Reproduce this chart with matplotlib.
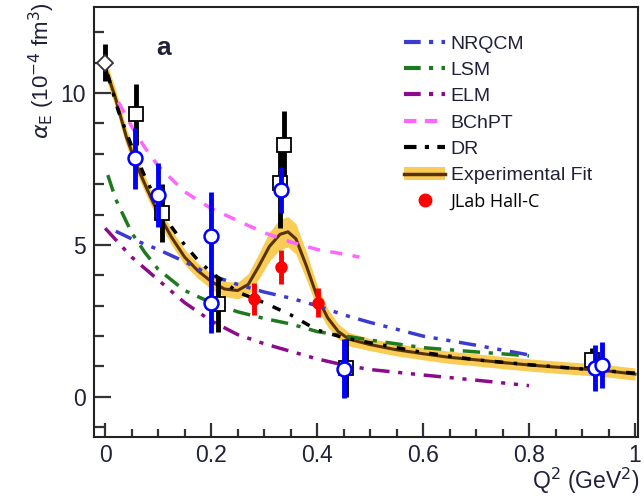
import matplotlib
matplotlib.use("Agg")
import matplotlib.pyplot as plt
from matplotlib.lines import Line2D
from matplotlib.patches import Patch

# theory curves
nrqcm_x = [0.02, 0.05, 0.1, 0.15, 0.2, 0.25, 0.3, 0.35, 0.4, 0.45, 0.5, 0.6, 0.7, 0.8]
nrqcm_y = [5.45, 5.2, 4.85, 4.45, 4.0, 3.7, 3.45, 3.25, 3.0, 2.7, 2.45, 2.0, 1.7, 1.38]

lsm_x = [0.005, 0.02, 0.05, 0.075, 0.1, 0.15, 0.2, 0.25, 0.3, 0.35, 0.4, 0.5, 0.6, 0.7, 0.8]
lsm_y = [7.3, 6.5, 5.4, 4.75, 4.2, 3.5, 3.1, 2.8, 2.58, 2.4, 2.15, 1.87, 1.62, 1.48, 1.35]

elm_x = [0.0, 0.05, 0.1, 0.15, 0.2, 0.25, 0.3, 0.35, 0.4, 0.45, 0.5, 0.6, 0.7, 0.8]
elm_y = [5.55, 4.6, 3.85, 3.1, 2.5, 2.05, 1.75, 1.5, 1.25, 1.05, 0.9, 0.72, 0.55, 0.37]

bchpt_x = [0.025, 0.05, 0.075, 0.1, 0.15, 0.2, 0.25, 0.3, 0.35, 0.4, 0.45, 0.48]
bchpt_y = [9.7, 8.9, 8.2, 7.6, 6.75, 6.2, 5.8, 5.4, 5.1, 4.85, 4.7, 4.6]

dr_x = [0.005, 0.025, 0.05, 0.075, 0.1, 0.125, 0.15, 0.175, 0.2, 0.25, 0.3, 0.35,
        0.4, 0.45, 0.5, 0.6, 0.7, 0.8, 0.9, 1.0]
dr_y = [10.6, 9.4, 8.25, 7.25, 6.35, 5.6, 5.0, 4.5, 4.1, 3.45, 3.1, 2.7,
        2.2, 1.95, 1.78, 1.46, 1.22, 1.06, 0.92, 0.78]

# experimental fit and its band
fit_x = [0.003, 0.02, 0.04, 0.06, 0.08, 0.1, 0.125, 0.15, 0.175, 0.2, 0.225, 0.25,
         0.27, 0.29, 0.31, 0.33, 0.345, 0.36, 0.38, 0.4, 0.42, 0.44, 0.46, 0.5,
         0.55, 0.6, 0.65, 0.7, 0.75, 0.8, 0.85, 0.9, 0.95, 1.0]
fit_y = [10.7, 9.8, 8.55, 7.6, 6.8, 6.05, 5.26, 4.6, 4.15, 3.8, 3.55, 3.5,
         3.7, 4.3, 4.95, 5.35, 5.43, 5.2, 4.3, 3.3, 2.6, 2.15, 1.9, 1.72,
         1.55, 1.42, 1.3, 1.22, 1.13, 1.05, 0.98, 0.92, 0.85, 0.75]
fit_err = [0.3, 0.3, 0.28, 0.27, 0.26, 0.25, 0.25, 0.25, 0.25, 0.25, 0.25, 0.27,
           0.35, 0.42, 0.48, 0.5, 0.5, 0.5, 0.45, 0.38, 0.3, 0.25, 0.22, 0.2,
           0.2, 0.2, 0.2, 0.2, 0.2, 0.2, 0.2, 0.2, 0.2, 0.2]

# data
diam_x, diam_y, diam_e = [0.0], [11.0], [0.6]

sq_x = [0.058, 0.108, 0.213, 0.338, 0.33, 0.455, 0.919]
sq_y = [9.3, 6.05, 3.05, 8.3, 7.05, 0.95, 1.2]
sq_e = [1.0, 0.95, 0.9, 1.1, 1.5, 0.97, 0.4]

circ_x = [0.057, 0.1, 0.2, 0.2, 0.332, 0.45, 0.925, 0.937]
circ_y = [7.85, 6.65, 5.3, 3.1, 6.8, 0.92, 0.95, 1.05]
circ_e = [1.0, 1.05, 1.45, 1.0, 0.75, 0.97, 0.75, 0.75]

jlab_x = [0.281, 0.332, 0.402]
jlab_y = [3.22, 4.27, 3.1]
jlab_e = [0.52, 0.57, 0.47]

c_nrqcm = "#3b3bd4"
c_lsm = "#1f7a1f"
c_elm = "#8c0a8c"
c_bchpt = "#ff66ff"
c_fit = "#5a3200"
c_band = "#f8cc55"
txt = "#20203a"

plt.rcParams["font.family"] = ["Liberation Sans", "DejaVu Sans"]

fig = plt.figure(figsize=(6.44, 4.98), dpi=100)
ax = fig.add_axes([0.146, 0.1225, 0.845, 0.8635])

ax.fill_between(fit_x, [y - e for y, e in zip(fit_y, fit_err)],
                [y + e for y, e in zip(fit_y, fit_err)], color=c_band, lw=0, zorder=1)
ax.plot(fit_x, fit_y, color=c_fit, lw=2.2, zorder=2)

ax.plot(nrqcm_x, nrqcm_y, color=c_nrqcm, lw=2.5, dashes=(5, 2.5, 1.2, 2.5, 1.2, 2.5), zorder=3)
ax.plot(lsm_x, lsm_y, color=c_lsm, lw=2.5, dashes=(5, 2.5, 1.2, 2.5), zorder=3)
ax.plot(elm_x, elm_y, color=c_elm, lw=2.5, dashes=(5, 2.5, 1.2, 2.5, 1.2, 2.5), zorder=3)
ax.plot(bchpt_x, bchpt_y, color=c_bchpt, lw=2.5, dashes=(3.5, 3), zorder=3)
ax.plot(dr_x, dr_y, color="black", lw=2.5, dashes=(2.5, 3, 1, 3), zorder=3)

# black squares + diamond
ax.errorbar(sq_x, sq_y, yerr=sq_e, fmt="none", ecolor="black", elinewidth=3.5, capsize=0, zorder=4)
ax.errorbar(diam_x, diam_y, yerr=diam_e, fmt="none", ecolor="black", elinewidth=3.5, capsize=0, zorder=4)
ax.plot(sq_x, sq_y, "s", ms=10, mfc="white", mec="black", mew=1.3, zorder=5, ls="none")
ax.plot(diam_x, diam_y, "D", ms=8, mfc="white", mec="#333333", mew=1.3, zorder=5, ls="none")

# blue circles
ax.errorbar(circ_x, circ_y, yerr=circ_e, fmt="none", ecolor="#0000ff", elinewidth=3.5, capsize=0, zorder=6)
ax.plot(circ_x, circ_y, "o", ms=10, mfc="white", mec="#0000ff", mew=1.8, zorder=7, ls="none")

# JLab Hall-C
ax.errorbar(jlab_x, jlab_y, yerr=jlab_e, fmt="o", color="#ff0000", ms=8,
            elinewidth=3.5, capsize=0, zorder=8)

ax.set_xlim(-0.021, 1.006)
ax.set_ylim(-1.32, 12.83)

ax.set_xticks([0, 0.2, 0.4, 0.6, 0.8, 1.0])
ax.set_xticklabels(["0", "0.2", "0.4", "0.6", "0.8", "1"])
ax.set_xticks([i * 0.05 for i in range(21)], minor=True)
ax.set_yticks([0, 5, 10])
ax.set_yticks(list(range(-1, 13)), minor=True)

ax.tick_params(which="both", direction="in", colors="#333333", labelcolor=txt,
               labelsize=16.5, width=1.6, top=False, right=False)
ax.tick_params(axis="y", which="major", length=12, pad=6)
ax.tick_params(axis="y", which="minor", length=7)
ax.tick_params(axis="x", which="major", length=10, pad=5)
ax.tick_params(axis="x", which="minor", length=5.5)
for s in ax.spines.values():
    s.set_linewidth(1.5)
    s.set_color("#222222")

fig.text(0.065, 0.995, r"$\alpha_{\rm E}$ (10$^{-4}$ fm$^{3}$)", rotation=90,
         ha="center", va="top", fontsize=16, color=txt)
fig.text(0.993, 0.004, r"Q$^{2}$ (GeV$^{2}$)", ha="right", va="bottom", fontsize=16.5, color=txt)
ax.text(0.127, 0.905, "a", transform=ax.transAxes, fontsize=19, fontweight="bold",
        ha="center", va="center", color=txt)

handles = [
    Line2D([], [], color=c_nrqcm, lw=3, dashes=(4, 2, 1, 2, 1, 2)),
    Line2D([], [], color=c_lsm, lw=3, dashes=(4, 2, 1, 2)),
    Line2D([], [], color=c_elm, lw=3, dashes=(4, 2, 1, 2, 1, 2)),
    Line2D([], [], color=c_bchpt, lw=3, dashes=(3, 2)),
    Line2D([], [], color="black", lw=3, dashes=(3, 2, 1, 2)),
    (Patch(color=c_band, lw=0), Line2D([], [], color=c_fit, lw=2.5)),
    Line2D([], [], color="#ff0000", marker="o", ms=9, ls="none"),
]
labels = ["NRQCM", "LSM", "ELM", "BChPT", "DR", "Experimental Fit", "JLab Hall-C"]
leg = ax.legend(handles, labels, loc="upper left", bbox_to_anchor=(0.57, 0.935),
                frameon=False, fontsize=14, handlelength=2.1, handletextpad=0.3,
                labelspacing=0.45, borderpad=0, borderaxespad=0)
for t in leg.get_texts():
    t.set_color(txt)
leg.get_texts()[-1].set_family(["Open Sans", "DejaVu Sans"])
leg.get_texts()[-1].set_fontsize(13)
leg.get_texts()[-1].set_color("black")

fig.savefig("out.png", dpi=100)
